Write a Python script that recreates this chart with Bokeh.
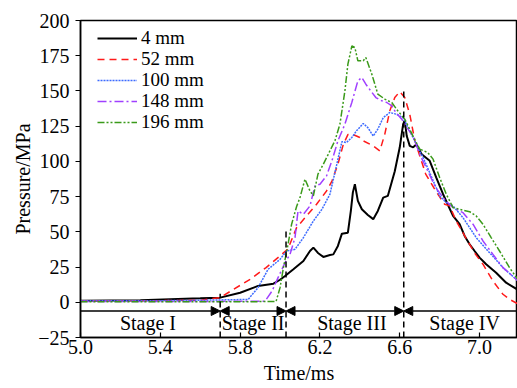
from bokeh.plotting import figure
from bokeh.models import Range1d, FixedTicker, PrintfTickFormatter, CustomJSTickFormatter, Arrow, NormalHead, Legend, LegendItem
from bokeh.embed import file_html
from bokeh.resources import INLINE
from bokeh.core.properties import value

FONT = "'Liberation Serif', 'Times New Roman', serif"

# ---- data (time in ms, pressure in MPa) ----
t_4 = [5.0, 5.3, 5.6, 5.7, 5.8, 5.89, 5.967, 6.0, 6.025, 6.067, 6.117, 6.15, 6.167, 6.19, 6.217, 6.25, 6.267,
       6.29, 6.31, 6.34, 6.355, 6.365, 6.375, 6.39, 6.41, 6.44, 6.467, 6.49, 6.517, 6.54, 6.575, 6.6, 6.617,
       6.625, 6.635, 6.65, 6.667, 6.683, 6.71, 6.75, 6.783, 6.817, 6.84, 6.867, 6.9, 6.925, 6.95, 6.975, 7.0,
       7.033, 7.083, 7.133, 7.19]
p_4 = [1.0, 1.5, 2.8, 3.3, 6.8, 11.6, 13.2, 16.0, 18.7, 23.4, 29.3, 36.4, 38.8, 35.0, 32.2, 33.5, 34.0,
       40.0, 48.7, 49.4, 65.0, 78.0, 83.8, 72.0, 66.0, 62.0, 59.0, 64.8, 74.3, 75.5, 93.0, 110.0, 126.4,
       129.0, 118.0, 111.0, 110.0, 112.0, 105.0, 100.4, 88.5, 76.7, 69.6, 61.3, 55.4, 47.1, 41.2, 36.4, 31.7,
       27.0, 21.0, 13.9, 9.0]

t_52 = [5.0, 5.3, 5.6, 5.7, 5.767, 5.85, 5.93, 6.0, 6.04, 6.083, 6.133, 6.183, 6.233, 6.26, 6.29, 6.317, 6.34,
        6.367, 6.4, 6.417, 6.467, 6.5, 6.525, 6.55, 6.575, 6.6, 6.625, 6.65, 6.675, 6.7, 6.73, 6.78, 6.825,
        6.85, 6.883, 6.94, 6.98, 7.017, 7.067, 7.117, 7.15, 7.19]
p_52 = [1.0, 1.0, 1.5, 3.3, 9.2, 16.3, 24.6, 32.9, 38.0, 53.0, 61.3, 69.6, 79.0, 86.0, 98.0, 112.0, 119.0,
        119.0, 117.0, 114.6, 111.0, 107.5, 119.3, 135.9, 145.3, 149.5, 145.3, 133.5, 115.0, 104.0, 91.0, 79.0, 69.6,
        68.4, 57.7, 43.5, 34.0, 27.0, 15.1, 5.7, 2.1, -1.0]

t_100 = [5.0, 5.5, 5.84, 5.89, 5.94, 6.0, 6.033, 6.075, 6.117, 6.167, 6.21, 6.25, 6.283, 6.31, 6.333, 6.36,
         6.383, 6.417, 6.44, 6.467, 6.49, 6.517, 6.55, 6.583, 6.617, 6.65, 6.683, 6.717, 6.75, 6.8, 6.833,
         6.867, 6.917, 6.983, 7.05, 7.117, 7.19]
p_100 = [1.0, 1.2, 2.0, 10.4, 23.4, 30.5, 36.4, 37.6, 45.9, 57.7, 66.0, 76.7, 97.0, 114.0, 113.4, 117.0,
         121.7, 126.9, 124.0, 118.0, 122.9, 131.0, 134.7, 133.5, 131.0, 121.7, 112.2, 102.7, 92.0, 75.5, 70.7,
         68.4, 60.0, 45.9, 35.2, 24.6, 15.5]

t_148 = [5.0, 5.5, 5.925, 5.96, 5.99, 6.025, 6.05, 6.075, 6.09, 6.117, 6.15, 6.175, 6.2, 6.233, 6.26, 6.29,
         6.325, 6.36, 6.39, 6.41, 6.43, 6.455, 6.48, 6.51, 6.535, 6.56, 6.58, 6.61, 6.63, 6.67, 6.7, 6.74,
         6.78, 6.83, 6.867, 6.917, 6.967, 7.017, 7.067, 7.117, 7.19]
p_148 = [0.5, 0.5, 0.8, 8.0, 17.5, 28.1, 34.0, 45.9, 64.8, 62.5, 68.4, 82.6, 83.8, 89.7, 100.4, 114.6,
         126.4, 142.0, 157.2, 159.5, 154.8, 150.0, 145.3, 143.0, 141.8, 139.4, 134.7, 130.0, 125.2, 116.9, 105.0, 93.3,
         81.4, 72.0, 67.2, 63.6, 55.4, 43.5, 34.0, 24.6, 15.5]

t_196 = [5.0, 5.5, 5.98, 6.0, 6.017, 6.037, 6.058, 6.083, 6.1, 6.125, 6.15, 6.167, 6.19, 6.217, 6.25, 6.275,
         6.3, 6.325, 6.34, 6.36, 6.375, 6.39, 6.417, 6.43, 6.46, 6.49, 6.525, 6.56, 6.59, 6.625, 6.67, 6.7,
         6.74, 6.767, 6.8, 6.833, 6.867, 6.9, 6.95, 6.983, 7.017, 7.058, 7.1, 7.15, 7.19]
p_196 = [0.3, 0.3, 0.5, 10.4, 24.6, 38.8, 55.4, 68.0, 74.3, 87.4, 79.0, 75.5, 90.9, 98.0, 107.5, 114.6,
         126.4, 150.0, 169.0, 182.0, 180.8, 171.4, 171.4, 173.7, 161.9, 147.7, 144.2, 141.8, 135.9, 130.0, 116.9, 108.7,
         106.3, 101.6, 88.5, 76.7, 67.2, 66.0, 64.3, 61.3, 55.4, 45.9, 36.4, 24.6, 16.5]

series_labels = ["4 mm", "52 mm", "100 mm", "148 mm", "196 mm"]
series_colors = ["#000000", "#ff1a1a", "#3d6bff", "#a040ff", "#3a9a1a"]
series_dash = ["solid", "7 5", "2 1", "9 3 2 3", "7 2 2 2 2 2"]
series_width = [2.0, 1.5, 1.5, 1.5, 1.5]

x_ticks = [5.0, 5.4, 5.8, 6.2, 6.6, 7.0]
y_ticks = [-25, 0, 25, 50, 75, 100, 125, 150, 175, 200]

x_start, x_end = 5.0, 7.19
y_start, y_end = -25, 200

stage_bounds = [5.0, 5.7, 6.03, 6.62, 7.19]
stage_labels = ["Stage I", "Stage II", "Stage III", "Stage IV"]
stage_centers = [5.338, 5.865, 6.36, 6.925]
stage_label_y = -15.0
stage_arrow_y = -6.2
divider_x = [5.7, 6.03, 6.62]
divider_top = [6.0, 51.0, 152.0]

# ---- figure ----
W, H = 517, 388
TOP, BOTTOM, LEFT = 20, 51, 80
p = figure(width=W, height=H, output_backend="svg", toolbar_location=None,
           x_range=Range1d(x_start, x_end), y_range=Range1d(y_start, y_end),
           min_border_left=LEFT, min_border_right=0, min_border_top=TOP, min_border_bottom=BOTTOM,
           background_fill_color="white", border_fill_color="white")
p.xgrid.visible = False
p.ygrid.visible = False
p.outline_line_color = "black"
p.outline_line_width = 1.5

series = [(t_4, p_4), (t_52, p_52), (t_100, p_100), (t_148, p_148), (t_196, p_196)]
renderers = []
for (tt, pp), col, dash, w in zip(series, series_colors, series_dash, series_width):
    renderers.append(p.line(tt, pp, line_color=col, line_dash=dash, line_width=w))

# stage dividers
p.segment(x0=divider_x, y0=[y_start] * 3, x1=divider_x, y1=divider_top,
          line_color="black", line_dash="6 4", line_width=1.5)

# stage arrows
for i in range(4):
    start = NormalHead(size=9, fill_color="black", line_color="black") if i > 0 else None
    end = NormalHead(size=9, fill_color="black", line_color="black") if i < 3 else None
    p.add_layout(Arrow(x_start=stage_bounds[i], x_end=stage_bounds[i + 1],
                       y_start=stage_arrow_y, y_end=stage_arrow_y,
                       start=start, end=end, line_color="black", line_width=1.5))

p.text(x=stage_centers, y=[stage_label_y] * 4, text=stage_labels, text_align="center",
       text_baseline="middle", text_font=value(FONT), text_font_size="20px", text_color="black")

# axes
p.xaxis.ticker = FixedTicker(ticks=x_ticks)
p.xaxis.formatter = PrintfTickFormatter(format="%.1f")
p.xaxis.major_tick_in = 5
p.xaxis.major_tick_out = 0
p.xaxis.major_label_standoff = 2
p.yaxis.ticker = FixedTicker(ticks=y_ticks)
p.yaxis.formatter = CustomJSTickFormatter(code="return tick < 0 ? '\u2212' + Math.abs(tick) : String(tick);")
p.yaxis.major_tick_in = 0
p.yaxis.major_tick_out = 5
p.yaxis.major_label_standoff = 6
for ax in (p.xaxis, p.yaxis):
    ax.minor_tick_line_color = None
    ax.axis_line_width = 1.5
    ax.major_tick_line_width = 1.2
    ax.major_label_text_font = FONT
    ax.major_label_text_font_size = "20px"
    ax.major_label_text_color = "black"
    ax.axis_label_text_font = FONT
    ax.axis_label_text_font_size = "20px"
    ax.axis_label_text_font_style = "normal"
    ax.axis_label_text_color = "black"
p.xaxis.axis_label = "Time/ms"
p.yaxis.axis_label = "Pressure/MPa"
p.xaxis.axis_label_standoff = 5
p.yaxis.axis_label_standoff = 1

# legend: one single-entry legend per series, stacked 21 px apart
frame_h = H - TOP - BOTTOM
for i, (r, lab) in enumerate(zip(renderers, series_labels)):
    lg = Legend(items=[LegendItem(label=lab, renderers=[r])],
                location=(17, frame_h - (19 + 21 * i) - 10), orientation="vertical")
    lg.border_line_alpha = 0
    lg.background_fill_alpha = 0
    lg.label_text_font = FONT
    lg.label_text_font_size = "19px"
    lg.label_text_color = "black"
    lg.glyph_width = 40
    lg.glyph_height = 20
    lg.label_height = 20
    lg.label_standoff = 4
    lg.spacing = 0
    lg.margin = 0
    lg.padding = 0
    p.add_layout(lg)

open("out.html", "w").write(file_html(p, INLINE))
